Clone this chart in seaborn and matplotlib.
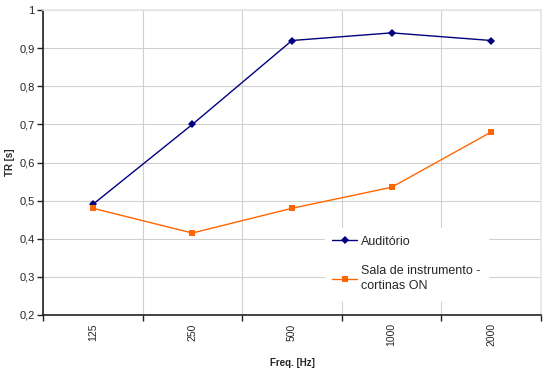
import numpy as np
import pandas as pd
import seaborn as sns
import matplotlib.pyplot as plt
from matplotlib.ticker import FixedLocator, NullFormatter

# data
freqs = ["125", "250", "500", "1000", "2000"]
auditorio = [0.49, 0.70, 0.92, 0.94, 0.92]
sala = [0.48, 0.415, 0.48, 0.535, 0.68]
series_names = ["Auditório", "Sala de instrumento -\ncortinas ON"]

df = pd.DataFrame({
    "freq": freqs * 2,
    "tr": auditorio + sala,
    "serie": [series_names[0]] * len(freqs) + [series_names[1]] * len(freqs),
})

sns.set_theme(style="white")
plt.rcParams["font.family"] = ["Liberation Sans", "DejaVu Sans"]

fig = plt.figure(figsize=(5.48, 3.72), dpi=100)
ax = fig.add_axes([43 / 548, 1 - 315 / 372, (541 - 43) / 548, (315 - 10) / 372])

palette = {series_names[0]: "#000080", series_names[1]: "#FF6600"}
sns.lineplot(data=df, x="freq", y="tr", hue="serie", style="serie",
             markers={series_names[0]: "D", series_names[1]: "s"},
             dashes=False, palette=palette, linewidth=1,
             markersize=4, markeredgewidth=0, ax=ax)

yt = np.arange(0.2, 1.01, 0.1)
ax.set_xlim(-0.5, len(freqs) - 0.5)
ax.set_ylim(0.2, 1.0)
ax.set_yticks(yt)
ax.set_yticklabels([("%.1f" % v).replace(".", ",").replace("1,0", "1") for v in yt], fontsize=8)

# category boundaries carry ticks and grid, labels sit between
ax.xaxis.set_major_locator(FixedLocator(np.arange(-0.5, len(freqs), 1.0)))
ax.xaxis.set_major_formatter(NullFormatter())
ax.xaxis.set_minor_locator(FixedLocator(np.arange(len(freqs))))
ax.set_xticklabels(freqs, minor=True, rotation=90, fontsize=7.5)
ax.tick_params(axis="x", which="minor", length=0, pad=6)
ax.tick_params(axis="x", which="major", length=4, width=1, color="#222222", direction="out", bottom=True)
ax.tick_params(axis="y", length=4, width=1, color="#222222", direction="out", left=True, pad=2)

ax.grid(True, which="major", color="#d0d0d0", linewidth=0.8)
ax.set_axisbelow(True)
for side in ["top", "right"]:
    ax.spines[side].set_color("#e6e6e6")
for side in ["left", "bottom"]:
    ax.spines[side].set_color("#222222")
    ax.spines[side].set_linewidth(1.2)

ax.set_xlabel("Freq. [Hz]", fontsize=7, fontweight="bold", labelpad=8)
ax.set_ylabel("TR [s]", fontsize=7, fontweight="bold", labelpad=3)

leg = ax.legend(loc="upper left", bbox_to_anchor=(0.566, 0.285), borderaxespad=0,
                frameon=True, fontsize=9, handlelength=2.0, handletextpad=0.3,
                labelspacing=1.4, borderpad=0.6, fancybox=False)
for t in leg.get_texts():
    t.set_linespacing(1.35)
leg.get_frame().set_edgecolor("white")
leg.get_frame().set_facecolor("white")
leg.get_frame().set_alpha(1)

fig.savefig("out.png", dpi=100, facecolor="white")
